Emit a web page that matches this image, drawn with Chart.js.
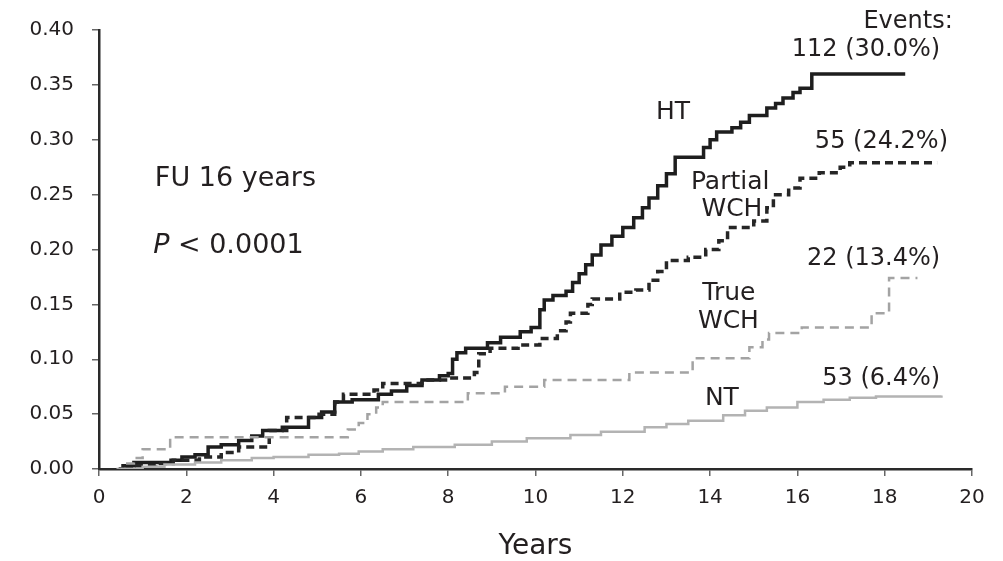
<!DOCTYPE html>
<html>
<head>
<meta charset="utf-8">
<script src="https://cdn.jsdelivr.net/npm/chart.js@4.4.1/dist/chart.umd.min.js"></script>
<style>
  html, body { margin: 0; padding: 0; background: #fff; }
  #wrap { width: 1003px; height: 561px; }
</style>
</head>
<body>
<div id="wrap"><canvas id="c" width="1003" height="561"></canvas></div>
<script>
// cumulative incidence, step points [years, value]
const ht = [
  [0.45, 0], [0.55, 0.003], [0.8, 0.006], [1.65, 0.008], [1.9, 0.011], [2.2, 0.013],
  [2.5, 0.02], [2.8, 0.022], [3.2, 0.026], [3.5, 0.03], [3.75, 0.035], [4.2, 0.038],
  [4.8, 0.047], [5.1, 0.052], [5.4, 0.061], [5.8, 0.063], [6.4, 0.068], [6.7, 0.071],
  [7.05, 0.076], [7.4, 0.081], [7.8, 0.085], [8.0, 0.087], [8.1, 0.1], [8.2, 0.106],
  [8.4, 0.11], [8.9, 0.115], [9.2, 0.12], [9.65, 0.125], [9.9, 0.129], [10.1, 0.145],
  [10.2, 0.154], [10.4, 0.158], [10.7, 0.162], [10.85, 0.17], [11.0, 0.178], [11.15, 0.186],
  [11.3, 0.195], [11.5, 0.204], [11.75, 0.212], [12.0, 0.22], [12.25, 0.229], [12.45, 0.238],
  [12.6, 0.247], [12.8, 0.258], [13.0, 0.269], [13.2, 0.284], [13.85, 0.293], [14.0, 0.3],
  [14.15, 0.307], [14.5, 0.311], [14.7, 0.316], [14.9, 0.322], [15.3, 0.329], [15.5, 0.333],
  [15.67, 0.338], [15.9, 0.343], [16.06, 0.347], [16.33, 0.36], [18.47, 0.36]
];
const partialWch = [
  [0.6, 0], [0.8, 0.003], [1.3, 0.005], [1.7, 0.008], [2.3, 0.011], [2.8, 0.015],
  [3.2, 0.02], [3.9, 0.035], [4.3, 0.047], [5.0, 0.05], [5.4, 0.061], [5.6, 0.068],
  [6.3, 0.072], [6.5, 0.078], [7.4, 0.081], [8.0, 0.083], [8.6, 0.088], [8.7, 0.105],
  [8.96, 0.11], [9.6, 0.113], [10.1, 0.119], [10.5, 0.126], [10.7, 0.134], [10.8, 0.142],
  [11.2, 0.15], [11.3, 0.155], [11.93, 0.161], [12.3, 0.163], [12.6, 0.172], [12.8, 0.18],
  [13.0, 0.19], [13.5, 0.193], [13.9, 0.2], [14.2, 0.208], [14.4, 0.22], [15.0, 0.226],
  [15.3, 0.238], [15.45, 0.25], [15.8, 0.256], [16.06, 0.265], [16.5, 0.27], [16.98, 0.275],
  [17.2, 0.279], [19.2, 0.279]
];
const trueWch = [
  [0.4, 0], [0.6, 0.005], [0.8, 0.01], [1.0, 0.018], [1.63, 0.029], [5.5, 0.029],
  [5.7, 0.036], [5.95, 0.042], [6.15, 0.05], [6.35, 0.056], [6.5, 0.061], [8.45, 0.069],
  [9.3, 0.075], [10.2, 0.081], [12.15, 0.088], [13.6, 0.101], [14.9, 0.111], [15.2, 0.118],
  [15.35, 0.124], [16.1, 0.129], [17.7, 0.142], [18.1, 0.174], [18.75, 0.174]
];
const nt = [
  [0.5, 0], [1.0, 0.002], [1.5, 0.004], [2.2, 0.006], [2.8, 0.008], [3.5, 0.01],
  [4.0, 0.011], [4.8, 0.013], [5.5, 0.014], [5.95, 0.016], [6.5, 0.018], [7.2, 0.02],
  [8.15, 0.022], [9.0, 0.025], [9.8, 0.028], [10.8, 0.031], [11.5, 0.034], [12.5, 0.038],
  [13.0, 0.041], [13.5, 0.044], [14.3, 0.049], [14.8, 0.053], [15.3, 0.056], [16.0, 0.061],
  [16.6, 0.063], [17.2, 0.065], [17.8, 0.066], [19.3, 0.067]
];

const xTicks = [0, 2, 4, 6, 8, 10, 12, 14, 16, 18, 20];
const yTicks = [0, 0.05, 0.10, 0.15, 0.20, 0.25, 0.30, 0.35, 0.40];

// text in the plot, anchored in data units (x years, y = baseline)
const notes = [
  { text: 'FU 16 years', x: 1.28, y: 0.2582, align: 'left', size: 27 },
  { text: '< 0.0001', italicPrefix: 'P', x: 1.24, y: 0.1964, align: 'left', size: 27 },
  { text: 'Events:', x: 19.56, y: 0.4018, align: 'right', size: 24 },
  { text: '112 (30.0%)', x: 19.27, y: 0.3764, align: 'right', size: 24 },
  { text: 'HT', x: 13.15, y: 0.3191, align: 'center', size: 25 },
  { text: '55 (24.2%)', x: 19.45, y: 0.2927, align: 'right', size: 24 },
  { text: 'Partial', x: 14.46, y: 0.2555, align: 'center', size: 25 },
  { text: 'WCH', x: 14.5, y: 0.2309, align: 'center', size: 25 },
  { text: '22 (13.4%)', x: 19.27, y: 0.1855, align: 'right', size: 24 },
  { text: 'True', x: 14.43, y: 0.1536, align: 'center', size: 25 },
  { text: 'WCH', x: 14.42, y: 0.1282, align: 'center', size: 25 },
  { text: '53 (6.4%)', x: 19.27, y: 0.0764, align: 'right', size: 24 },
  { text: 'NT', x: 14.27, y: 0.0582, align: 'center', size: 25 }
];

const FONT = '"DejaVu Sans", "Liberation Sans", Arial, sans-serif';
const toXY = (arr) => arr.map(([x, y]) => ({ x, y }));

const notesPlugin = {
  id: 'notes',
  afterDatasetsDraw(chart) {
    const { ctx, scales: { x, y } } = chart;
    ctx.save();
    ctx.fillStyle = '#231f20';
    ctx.textBaseline = 'alphabetic';
    notes.forEach((n) => {
      const px = x.getPixelForValue(n.x);
      const py = y.getPixelForValue(n.y);
      ctx.font = n.size + 'px ' + FONT;
      if (n.italicPrefix) {
        ctx.font = 'italic ' + n.size + 'px ' + FONT;
        ctx.textAlign = 'left';
        ctx.fillText(n.italicPrefix, px, py);
        const w = ctx.measureText(n.italicPrefix + ' ').width;
        ctx.font = n.size + 'px ' + FONT;
        ctx.fillText(n.text, px + w, py);
      } else {
        ctx.textAlign = n.align;
        ctx.fillText(n.text, px, py);
      }
    });
    ctx.restore();
  }
};

new Chart(document.getElementById('c'), {
  type: 'line',
  plugins: [notesPlugin],
  data: {
    datasets: [
      {
        label: 'NT',
        data: toXY(nt),
        borderColor: '#b3b3b3',
        borderWidth: 2.5,
        stepped: true,
      },
      {
        label: 'True WCH',
        data: toXY(trueWch),
        borderColor: '#a3a3a3',
        borderWidth: 2.5,
        borderDash: [9, 6],
        stepped: true,
      },
      {
        label: 'Partial WCH',
        data: toXY(partialWch),
        borderColor: '#262626',
        borderWidth: 3.5,
        borderDash: [8, 5],
        stepped: true,
      },
      {
        label: 'HT',
        data: toXY(ht),
        borderColor: '#1e1e1e',
        borderWidth: 3.5,
        stepped: true,
      },
    ]
  },
  options: {
    responsive: false,
    animation: false,
    parsing: false,
    elements: { point: { radius: 0 } },
    layout: {
      padding: { top: 29, left: 0, right: 31, bottom: 0 }
    },
    scales: {
      x: {
        type: 'linear',
        min: 0,
        max: 20,
        afterFit: (s) => { s.height = 92; },
        afterBuildTicks: (s) => { s.ticks = xTicks.map((v) => ({ value: v })); },
        ticks: {
          color: '#231f20',
          font: { family: FONT, size: 20 },
          padding: 10,
          callback: (v) => String(v),
        },
        grid: { drawOnChartArea: false, tickLength: 7, color: '#666', lineWidth: 1.5 },
        border: { color: '#2a2a2a', width: 2.5 },
        title: {
          display: true,
          text: 'Years',
          color: '#231f20',
          font: { family: FONT, size: 28, lineHeight: 1 },
          padding: { top: 0, bottom: 0 },
        },
      },
      y: {
        min: 0,
        max: 0.4,
        afterFit: (s) => { s.width = 99; },
        afterBuildTicks: (s) => { s.ticks = yTicks.map((v) => ({ value: v })); },
        ticks: {
          color: '#231f20',
          font: { family: FONT, size: 20 },
          padding: 18,
          callback: (v) => v.toFixed(2),
        },
        grid: { drawOnChartArea: false, tickLength: 7, color: '#666', lineWidth: 1.5 },
        border: { color: '#2a2a2a', width: 2.5 },
      },
    },
    plugins: {
      legend: { display: false },
      tooltip: { enabled: false },
    },
  },
});
</script>
</body>
</html>
